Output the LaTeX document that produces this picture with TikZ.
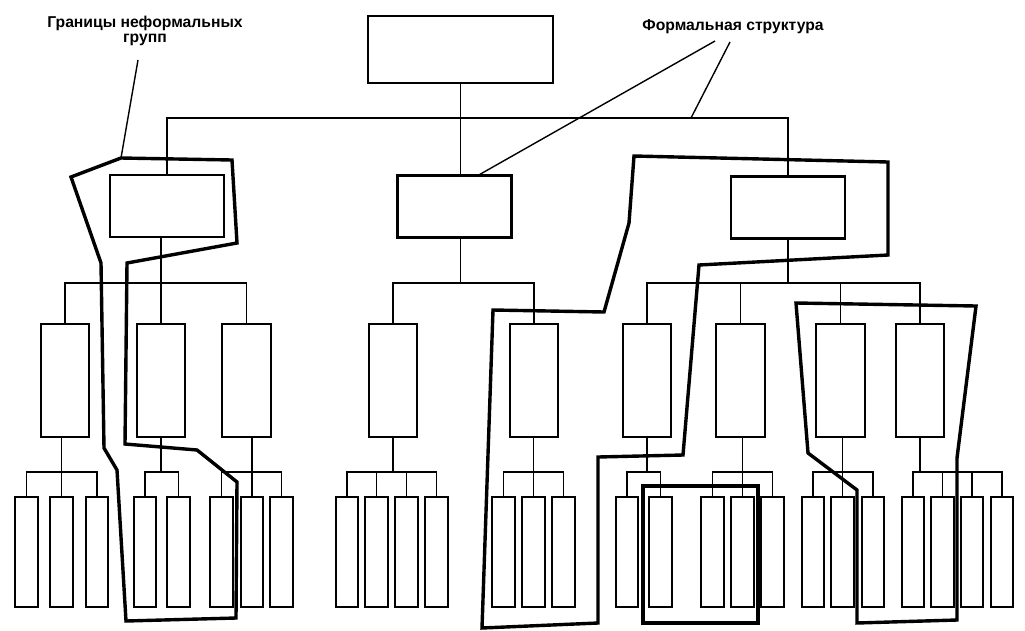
\documentclass[tikz,border=0pt]{standalone}
\usepackage{fontspec}
\setmainfont{Liberation Sans}
\begin{document}
\begin{tikzpicture}[x=1pt,y=-1pt,
  box/.style={draw, line width=2.2pt, inner sep=0pt, fill=white},
  topbox/.style={box, minimum width=185pt, minimum height=67pt},
  midbox/.style={box, minimum width=114pt, minimum height=62pt},
  tallbox/.style={box, minimum width=48.5pt, minimum height=113pt},
  leafbox/.style={box, minimum width=22.5pt, minimum height=110pt},
  conn/.style={line width=1.6pt},
  grp/.style={line width=3.4pt, line join=miter},
  leader/.style={line width=1.4pt},
  lbl/.style={font=\fontsize{15.7}{15}\selectfont\bfseries, inner sep=0pt}
]
\fill[white] (0,0) rectangle (1025,630);
\useasboundingbox (0,0) rectangle (1025,630);

\coordinate (bus1) at (0,118);
\coordinate (bus2) at (0,283);
\coordinate (bus3) at (0,472);

% nodes
\node[topbox] (top) at (460.5,49.5) {};
\node[midbox] (lm) at (167,206) {};
\node[midbox] (cm) at (454.5,206.5) {};
\node[midbox] (rm) at (788,207.5) {};

\foreach \n/\x in {l1/65, l2/161, l3/246.5, c1/393, c2/534, r1/647, r2/740.5, r3/840.5, r4/920}
  \node[tallbox] (\n) at (\x,380.5) {};

\foreach \n/\x in {l1a/26.5, l1b/61.5, l1c/97, l2a/145, l2b/178.5, l3a/221.5, l3b/252, l3c/281.5,
  c1a/347, c1b/376.5, c1c/406.5, c1d/436.5, c2a/503.5, c2b/533.5, c2c/563.5,
  r1a/627, r1b/660.5, r2a/712.5, r2b/742.5, r2c/772.5, r3a/813, r3b/842.5, r3c/873,
  r4a/913, r4b/942.5, r4c/972, r4d/1002}
  \node[leafbox] (\n) at (\x,552) {};

% level 0 -> 1
\draw[conn] (top.south) -- (cm.north -| top.south);
\draw[conn] (top.south |- bus1) -| (lm.north);
\draw[conn] (top.south |- bus1) -| (rm.north);

% level 1 -> 2
\draw[conn] (lm.south -| l2) -- (l2 |- bus2);
\foreach \c in {l1,l2,l3} \draw[conn] (\c.north) |- (l2 |- bus2);
\draw[conn] (cm.south -| top) -- (top |- bus2);
\foreach \c in {c1,c2} \draw[conn] (\c.north) |- (top |- bus2);
\draw[conn] (rm.south) -- (rm |- bus2);
\foreach \c in {r1,r2,r3,r4} \draw[conn] (\c.north) |- (rm |- bus2);

% level 2 -> 3
\draw[conn] (l1.south -| l1b) -- (l1b |- bus3);
\foreach \c in {l1a,l1b,l1c} \draw[conn] (\c.north) |- (l1b |- bus3);
\draw[conn] (l2.south) -- (l2 |- bus3);
\foreach \c in {l2a,l2b} \draw[conn] (\c.north) |- (l2 |- bus3);
\draw[conn] (l3.south -| l3b) -- (l3b |- bus3);
\foreach \c in {l3a,l3b,l3c} \draw[conn] (\c.north) |- (l3b |- bus3);
\draw[conn] (c1.south) -- (c1 |- bus3);
\foreach \c in {c1a,c1b,c1c,c1d} \draw[conn] (\c.north) |- (c1 |- bus3);
\draw[conn] (c2.south -| c2b) -- (c2b |- bus3);
\foreach \c in {c2a,c2b,c2c} \draw[conn] (\c.north) |- (c2b |- bus3);
\draw[conn] (r1.south) -- (r1 |- bus3);
\foreach \c in {r1a,r1b} \draw[conn] (\c.north) |- (r1 |- bus3);
\draw[conn] (r2.south -| r2b) -- (r2b |- bus3);
\foreach \c in {r2a,r2b,r2c} \draw[conn] (\c.north) |- (r2b |- bus3);
\draw[conn] (r3.south -| r3b) -- (r3b |- bus3);
\foreach \c in {r3a,r3b,r3c} \draw[conn] (\c.north) |- (r3b |- bus3);
\draw[conn] (r4.south) -- (r4 |- bus3);
\foreach \c in {r4a,r4b,r4c,r4d} \draw[conn] (\c.north) |- (r4 |- bus3);

% informal group boundaries
\coordinate (gc) at (121,158);
\draw[grp] (gc) -- (232,160) -- (237,243) -- (127,263) -- (125,444) -- (197,450) -- (237,482)
  -- (236,618) -- (126,621) -- (117,470) -- (104,448) -- (101,263) -- (71,177) -- cycle;
\draw[grp] (634,156) -- (888,162) -- (888,255) -- (699,265) -- (683,455) -- (598,457)
  -- (598,623) -- (482,628) -- (493,310) -- (604,312) -- (629,223) -- cycle;
\draw[grp] (796,303) -- (976,306) -- (957,458) -- (957,620) -- (857,623) -- (857,490)
  -- (808,453) -- cycle;
\draw[grp] (643,486) rectangle (758,623);

% labels
\node[lbl, align=center, anchor=north] (tg) at (145,16) {Границы неформальных\\групп};
\node[lbl, anchor=base] (tf) at (733,30) {Формальная структура};

\coordinate (g1) at (138,60);
\draw[leader] (g1) -- (gc);
\coordinate (fa) at (715,41);
\coordinate (fb) at (730,42);
\coordinate (f1) at (477,176);
\coordinate (f2) at (691,118);
\draw[leader] (fa) -- (f1);
\draw[leader] (fb) -- (f2);
\end{tikzpicture}
\end{document}
